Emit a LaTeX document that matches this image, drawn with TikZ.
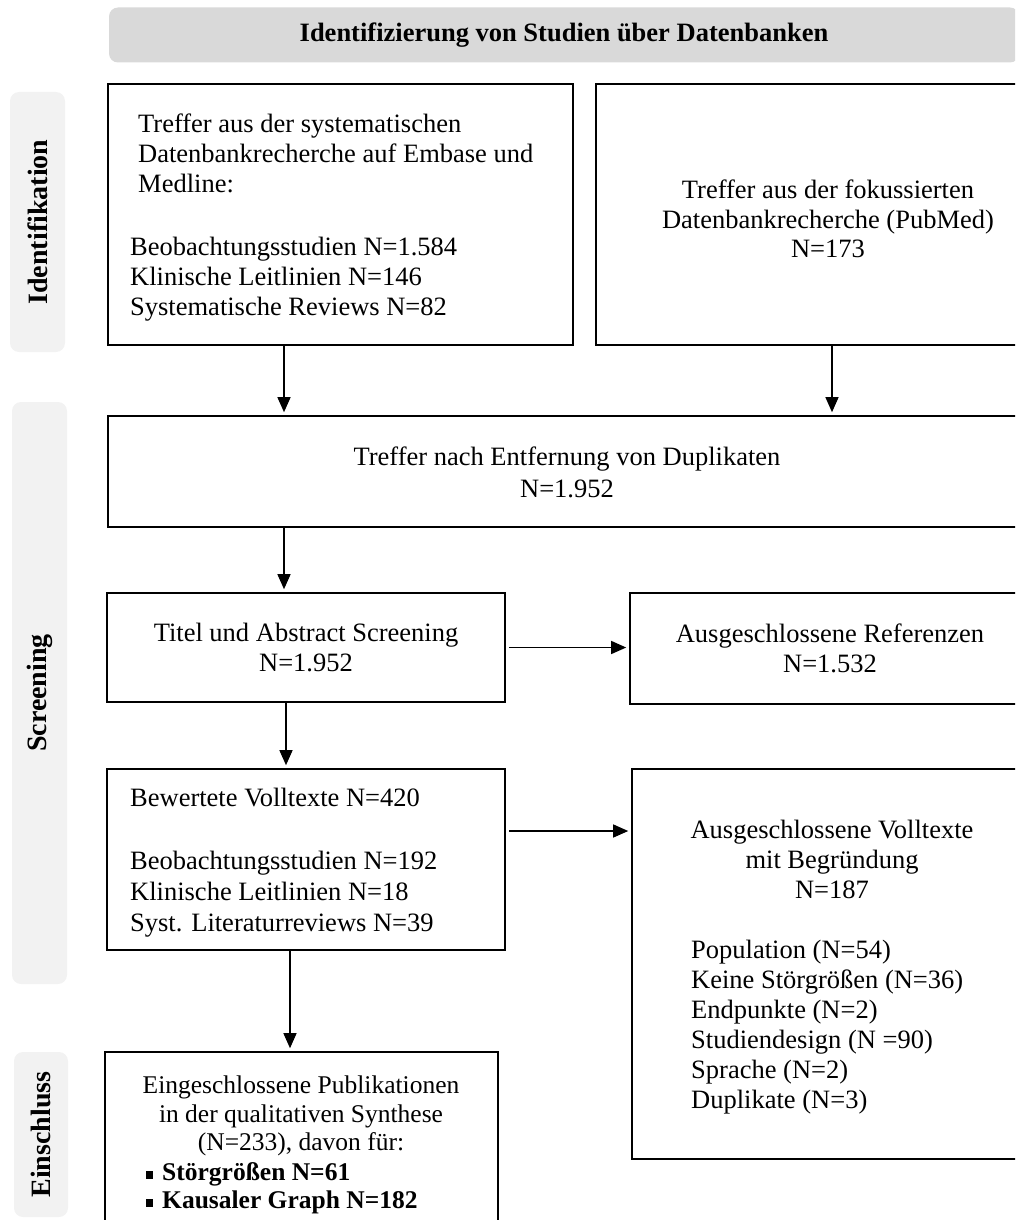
\documentclass[tikz,border=0pt]{standalone}
\usepackage{fontspec}
\setmainfont{Liberation Serif}
\usetikzlibrary{arrows.meta,calc}
\definecolor{bannergray}{HTML}{D9D9D9}
\definecolor{phasegray}{HTML}{F2F2F2}
% box from corner (x1,y1) to (x2,y2), y growing downwards
\newcommand\flowbox[5]{\node[box,minimum width={#4-#2},minimum height={#5-#3}] (#1) at ({(#2+#4)/2},{(#3+#5)/2}) {};}
\newcommand\phasebox[5]{\node[phase,minimum width={#4-#2},minimum height={#5-#3}] (#1) at ({(#2+#4)/2},{(#3+#5)/2}) {};}
\begin{document}
\begin{tikzpicture}[x=1pt,y=-1pt,
  box/.style={draw=black,line width=2.6pt,rectangle,inner sep=0pt},
  phase/.style={fill=phasegray,rounded corners=9pt,inner sep=0pt},
  lbl/.style={inner sep=0pt,rotate=90,font=\fontsize{28}{32}\selectfont\bfseries},
  txt/.style={inner sep=0pt,font=\fontsize{26.5}{30}\selectfont},
  stxt/.style={inner sep=0pt,font=\fontsize{25.5}{29}\selectfont},
  btxt/.style={inner sep=0pt,font=\fontsize{25.5}{29}\selectfont\bfseries},
  arr/.style={line width=1.3pt,-{Triangle[length=15pt,width=13pt]},shorten >=2.5pt},
  bullet/.style={fill=black,minimum size=7.5pt,inner sep=0pt}]
\clip (0,0) rectangle (1015,1220);

% header banner
\node[fill=bannergray,rounded corners=9pt,minimum width=910,minimum height=55,inner sep=0pt,
      font=\fontsize{26.5}{30}\selectfont\bfseries] (banner) at (564,35) {Identifizierung von Studien über Datenbanken};

% phase labels on the left
\phasebox{pid}{10}{92}{65}{352}
\node[lbl] (lid) at (pid) {Identifikation};
\phasebox{pscr}{12}{402}{67}{984}
\node[lbl] (lscr) at (pscr) {Screening};
\phasebox{pinc}{14}{1052}{68}{1217}
\node[lbl] (linc) at (pinc) {Einschluss};

% boxes
\flowbox{b1}{108}{84}{573}{345}
\flowbox{b2}{596}{84}{1060}{345}
\flowbox{dup}{108}{416}{1026}{527}
\flowbox{titel}{107}{593}{505}{702}
\flowbox{ref}{630}{593}{1030}{704}
\flowbox{vt}{107}{769}{505}{950}
\flowbox{avt}{632}{769}{1032}{1159}
\flowbox{incl}{105}{1052}{498}{1262}

% texts: identification
\node[txt,anchor=base west] (b1a) at (138,132) {Treffer aus der systematischen};
\node[txt,anchor=base west] (b1b) at (138,162) {Datenbankrecherche auf Embase und};
\node[txt,anchor=base west] (b1c) at (138,192) {Medline:};
\node[txt,anchor=base west] (b1d) at (130,255) {Beobachtungsstudien N=1.584};
\node[txt,anchor=base west] (b1e) at (130,285) {Klinische Leitlinien N=146};
\node[txt,anchor=base west] (b1f) at (130,315) {Systematische Reviews N=82};

\node[txt,anchor=base] (b2a) at (828,198) {Treffer aus der fokussierten};
\node[txt,anchor=base] (b2b) at (828,228) {Datenbankrecherche (PubMed)};
\node[txt,anchor=base] (b2c) at (828,257) {N=173};

% texts: screening
\node[txt,anchor=base] (dupa) at (567,465) {Treffer nach Entfernung von Duplikaten};
\node[txt,anchor=base] (dupb) at (567,497) {N=1.952};

\node[txt,anchor=base] (tita) at (306,641) {Titel und Abstract Screening};
\node[txt,anchor=base] (titb) at (306,671) {N=1.952};

\node[txt,anchor=base] (refa) at (830,642) {Ausgeschlossene Referenzen};
\node[txt,anchor=base] (refb) at (830,672) {N=1.532};

\node[txt,anchor=base west] (vta) at (130,806) {Bewertete Volltexte N=420};
\node[txt,anchor=base west] (vtb) at (130,869) {Beobachtungsstudien N=192};
\node[txt,anchor=base west] (vtc) at (130,900) {Klinische Leitlinien N=18};
\node[txt,anchor=base west] (vtd) at (130,931) {Syst. Literaturreviews N=39};

\node[txt,anchor=base] (avta) at (832,838) {Ausgeschlossene Volltexte};
\node[txt,anchor=base] (avtb) at (832,868) {mit Begründung};
\node[txt,anchor=base] (avtc) at (832,898) {N=187};
\node[txt,anchor=base west] (avtd) at (691,958) {Population (N=54)};
\node[txt,anchor=base west] (avte) at (691,988) {Keine Störgrößen (N=36)};
\node[txt,anchor=base west] (avtf) at (691,1018) {Endpunkte (N=2)};
\node[txt,anchor=base west] (avtg) at (691,1048) {Studiendesign (N =90)};
\node[txt,anchor=base west] (avth) at (691,1078) {Sprache (N=2)};
\node[txt,anchor=base west] (avti) at (691,1108) {Duplikate (N=3)};

% texts: inclusion
\node[stxt,anchor=base] (inca) at (301,1093) {Eingeschlossene Publikationen};
\node[stxt,anchor=base] (incb) at (301,1122) {in der qualitativen Synthese};
\node[stxt,anchor=base] (incc) at (301,1150) {(N=233), davon für:};
\node[bullet] (bu1) at (149.5,1175) {};
\node[btxt,anchor=base west] (incd) at (162,1180) {Störgrößen N=61};
\node[bullet] (bu2) at (149.5,1203) {};
\node[btxt,anchor=base west] (ince) at (162,1208) {Kausaler Graph N=182};

% connectors
\coordinate (xa) at (284,0);
\coordinate (xb) at (832,0);
\coordinate (xc) at (286,0);
\coordinate (xd) at (290,0);
\coordinate (yv) at (0,831);
\draw[arr] (b1.south -| xa) -- (dup.north -| xa);
\draw[arr] (b2.south -| xb) -- (dup.north -| xb);
\draw[arr] (dup.south -| xa) -- (titel.north -| xa);
\draw[arr] (titel.south -| xc) -- (vt.north -| xc);
\draw[arr] (vt.south -| xd) -- (incl.north -| xd);
\coordinate (to0) at ($(titel.east)+(3,0)$);
\draw[arr] (to0) -- (to0 -| ref.west);
\coordinate (vo0) at (vt.east |- yv);
\coordinate (vo) at ($(vo0)+(3,0)$);
\draw[arr] (vo) -- (vo -| avt.west);
\end{tikzpicture}
\end{document}
